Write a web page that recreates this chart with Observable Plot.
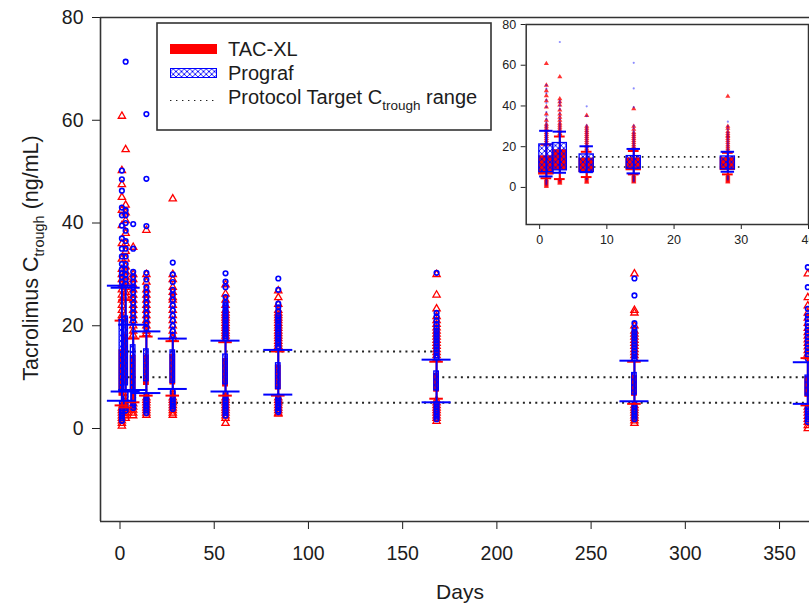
<!DOCTYPE html>
<html>
<head>
<meta charset="utf-8">
<script src="https://cdn.jsdelivr.net/npm/d3@7"></script>
<script src="https://cdn.jsdelivr.net/npm/@observablehq/plot@0.6"></script>
<style>
  body { margin: 0; background: #fff; }
  #wrap { position: relative; width: 809px; height: 606px; overflow: hidden;
          font-family: "Liberation Sans", Arial, sans-serif; }
  #wrap svg { max-width: none; }
  #inset { position: absolute; left: 495px; top: 19px; }
</style>
</head>
<body>
<svg width="0" height="0" style="position:absolute">
  <defs>
    <pattern id="hatch" patternUnits="userSpaceOnUse" width="5.5" height="5.5">
      <path d="M0,0L5.5,5.5M5.5,0L0,5.5M-1,4.5L1,6.5M4.5,-1L6.5,1M4.5,6.5L6.5,4.5M-1,1L1,-1" stroke="#0000ff" stroke-width="0.9"/>
    </pattern>
  </defs>
</svg>
<div id="wrap"><div id="main"></div><div id="inset"></div></div>
<script>
// Visit days
const days = [1, 3, 7, 14, 28, 56, 84, 168, 273, 365];

// TAC-XL summary per visit: whisker ends and box edges (ng/mL)
const tacLo = [4.5, 4.1, 5.1, 6.4, 6.4, 6.4, 6.4, 5.8, 4.8, 4.5];
const tacQ1 = [6.4, 8.7, 7.6, 8.5, 8.6, 8.2, 7.6, 7.2, 6.4, 6.2];
const tacQ3 = [15.2, 18.2, 14.1, 14.2, 14.3, 13.5, 12.2, 10.6, 10.2, 10.0];
const tacHi = [21.0, 25.0, 17.5, 17.9, 17.0, 16.8, 15.0, 13.0, 13.0, 13.7];

// Prograf summary per visit
const progLo = [5.4, 7.2, 7.5, 6.9, 7.7, 7.2, 6.6, 5.1, 5.3, 4.8];
const progQ1 = [7.5, 8.4, 7.5, 9.2, 8.9, 8.6, 7.7, 7.4, 6.6, 6.4];
const progQ3 = [21.1, 21.8, 16.2, 15.4, 15.2, 14.4, 12.7, 11.1, 10.8, 10.3];
const progHi = [27.8, 27.4, 20.2, 18.9, 17.5, 17.1, 15.3, 13.4, 13.2, 12.9];

// Individual troughs outside the whiskers, one list per visit
const tacOutliers = [
  [60.8, 50.2, 47.5, 45, 42.5, 39.5, 36, 33, 31, 30, 29, 28, 27, 26, 25, 24, 23, 22, 21.5, 4, 3.5, 3, 2.5, 2, 1.5, 1, 0.5],
  [54.3, 43.5, 42, 40.5, 38, 36, 34.5, 33, 31.5, 30.5, 29.5, 28.5, 27.5, 26.5, 25.8, 4, 3.5, 3, 2.5, 2],
  [35.3, 30, 29, 28, 27, 26, 25, 24, 23, 22, 21, 20, 19, 18.2, 4.8, 4.2, 3.6, 3, 2.5],
  [38.6, 30, 28.5, 27, 26, 25, 24, 23, 22, 21, 20, 19, 18.5, 6, 5.5, 5, 4.5, 4, 3.5, 3, 2.6],
  [44.7, 30, 29, 27.5, 26.5, 25.5, 25, 24, 23, 22, 21, 20, 19, 18, 17.5, 6, 5.5, 5, 4.5, 4, 3.5, 3, 2.6],
  [28, 26.2, 25, 24, 23, 22.5, 22, 21.5, 21, 20.5, 20, 19.5, 19, 18.5, 18, 17.5, 17.2, 6, 5.5, 5, 4.5, 4, 3.5, 3, 2.5, 2, 1],
  [26.8, 25.5, 24.2, 23, 22.5, 22, 21.5, 21, 20.5, 20, 19.5, 19, 18.5, 18, 17.5, 17, 16.5, 16, 15.5, 6, 5.5, 5, 4.5, 4, 3.5, 3, 2.8],
  [30, 26, 23.3, 21.8, 21, 20.3, 19.6, 19, 18.4, 17.8, 17.2, 16.6, 16, 15.4, 14.8, 14.2, 13.6, 5.5, 5, 4.5, 4, 3.5, 3, 2.5, 2, 1.4],
  [30.1, 23, 22.5, 20, 19, 18.4, 17.8, 17.2, 16.6, 16, 15.4, 14.8, 14.2, 13.6, 4.5, 4, 3.5, 3, 2.5, 2, 1.5, 1],
  [30.1, 25.5, 23.9, 22.5, 21.5, 20.5, 19.5, 18.7, 18, 17.3, 16.6, 15.9, 15.2, 14.5, 14, 4.2, 3.6, 3, 2.4, 1.8, 1.2, 0.6, 0]
];
const progOutliers = [
  [50.2, 48.5, 46.3, 43, 41.5, 39.5, 37, 35, 33.5, 32, 31, 30.2, 29.5, 28.5, 5, 4.5, 4, 3.5, 3, 2.5, 2, 1.5],
  [71.4, 42.5, 41.5, 40, 38.5, 36.5, 35, 33.5, 32, 31, 30, 29, 28.2, 6.8, 6.2, 5.5, 5, 4.5, 4, 3.5],
  [39.8, 35, 30.5, 29.5, 28.5, 27.5, 26.5, 25.5, 24.5, 23.5, 22.5, 21.5, 20.8, 7, 6.5, 6, 5.5, 5, 4.5, 4],
  [61.2, 48.6, 39.4, 30.3, 29, 27.5, 26.5, 25.5, 24.5, 23.5, 22.5, 21.5, 20.5, 19.5, 6.5, 6, 5.5, 5, 4.5, 4, 3.5, 3],
  [32.3, 30, 28.5, 27, 26, 25, 24, 23, 22, 21, 20, 19, 18.2, 7.2, 6.8, 6.3, 5.8, 5.3, 4.8, 4.3, 3.8],
  [30.2, 28.6, 27.5, 25.6, 24.5, 24, 23.5, 23, 22.5, 22, 21.5, 21, 20.5, 20, 19.5, 19, 18.5, 18, 17.6, 6.8, 6.4, 6, 5.5, 5, 4.5, 4, 3.5, 3, 2.5],
  [29.2, 27, 24.3, 23.6, 22.8, 22, 21.5, 21, 20.5, 20, 19.5, 19, 18.5, 18, 17.5, 17, 16.5, 16, 15.8, 6.2, 5.8, 5.4, 5, 4.5, 4, 3.5, 3.2],
  [30.3, 22.5, 21.8, 21, 20.3, 19.6, 19, 18.4, 17.8, 17.2, 16.6, 16, 15.4, 14.8, 14.2, 13.8, 4.8, 4.3, 3.8, 3.3, 2.8, 2.3, 1.8],
  [29.2, 25.9, 20.5, 19.4, 18.8, 18.2, 17.6, 17, 16.4, 15.8, 15.2, 14.6, 14, 13.5, 4.8, 4.3, 3.8, 3.3, 2.8, 2.3, 1.8],
  [31.4, 27.5, 23.3, 22, 21.3, 20.6, 19.9, 19.2, 18.5, 17.8, 17.1, 16.4, 15.7, 15, 14.3, 13.6, 4.3, 3.8, 3.3, 2.8, 2.3, 1.8, 1.3]
];

// Protocol target trough ranges by study period
const targetStart = [1, 30, 168];
const targetEnd = [30, 168, 365];
const targetLow = [10, 5, 5];
const targetHigh = [15, 15, 10];

// Axis ticks
const xTicks = [0, 50, 100, 150, 200, 250, 300, 350];
const yTicks = [0, 20, 40, 60, 80];
const insetXTicks = [0, 10, 20, 30, 40];

const RED = "#ff0000", BLUE = "#0000ff", INK = "#1c1c1c", AXIS = "#333";
const FONT = '"Liberation Sans", Arial, sans-serif';

// Table building
const boxRows = (lo, q1, q3, hi) =>
  days.map((day, i) => ({day, lo: lo[i], q1: q1[i], q3: q3[i], hi: hi[i]}));
const capRows = rows => rows.flatMap(r => [{day: r.day, y: r.lo}, {day: r.day, y: r.hi}]);
const pointRows = outs => days.flatMap((day, i) => outs[i].map(value => ({day, value})));
const targetRows = targetStart.flatMap((s, i) => [
  {start: s, end: targetEnd[i], level: targetLow[i]},
  {start: s, end: targetEnd[i], level: targetHigh[i]}
]);

const tacBoxes = boxRows(tacLo, tacQ1, tacQ3, tacHi);
const progBoxes = boxRows(progLo, progQ1, progQ3, progHi);
const tacPoints = pointRows(tacOutliers);
const progPoints = pointRows(progOutliers);

// Whisker + box + caps for one treatment group
function groupMarks(boxes, color, fill, boxHalf, capHalf, lineW, keep = d => true) {
  const b = boxes.filter(r => keep(r.day));
  const caps = capRows(b);
  return [
    Plot.ruleX(b, {x: "day", y1: "lo", y2: "hi", stroke: color, strokeWidth: lineW}),
    Plot.rect(b, {x1: d => d.day - boxHalf, x2: d => d.day + boxHalf, y1: "q1", y2: "q3",
                  fill, stroke: color, strokeWidth: 1.3}),
    Plot.ruleY(caps, {y: "y", x1: d => d.day - capHalf, x2: d => d.day + capHalf,
                      stroke: color, strokeWidth: lineW})
  ];
}

// Main panel: whole first year
const main = Plot.plot({
  width: 809, height: 606,
  marginLeft: 100, marginRight: 0, marginTop: 17, marginBottom: 85,
  style: {background: "white", color: INK, fontFamily: FONT, fontSize: "19.5px"},
  x: {domain: [-10.35, 365.9], ticks: xTicks, tickSize: 8, tickPadding: 17, label: null},
  y: {domain: [-18.1, 80], ticks: yTicks, tickSize: 8, tickPadding: 9, label: null},
  marks: [
    Plot.ruleY(targetRows, {y: "level", x1: "start", x2: "end", stroke: "#222",
                            strokeWidth: 2, strokeDasharray: "2,4.2"}),
    Plot.dot(tacPoints, {x: "day", y: "value", symbol: "triangle", r: 2.7,
                         stroke: RED, fill: "none", strokeWidth: 1.3}),
    Plot.dot(progPoints, {x: "day", y: "value", r: 2.3, stroke: BLUE, fill: "none", strokeWidth: 1.6}),
    ...groupMarks(tacBoxes, RED, RED, 1.2, 3.6, 2),
    ...groupMarks(progBoxes, BLUE, "url(#hatch)", 1.2, 7.7, 2),
    Plot.ruleX([-10.35], {stroke: AXIS, strokeWidth: 1.6}),
    Plot.ruleY([80, -18.1], {stroke: AXIS, strokeWidth: 1.6})
  ]
});
document.getElementById("main").appendChild(main);

const svg = d3.select(main);

// Axis titles with subscript
const yl = svg.append("text")
  .attr("transform", "translate(38,258) rotate(-90)")
  .attr("text-anchor", "middle").attr("fill", INK)
  .style("font-family", FONT).style("font-size", "21.5px");
yl.append("tspan").text("Tacrolimus C");
yl.append("tspan").attr("dy", 6).style("font-size", "14.5px").text("trough");
yl.append("tspan").attr("dy", -6).text(" (ng/mL)");

svg.append("text").attr("x", 460).attr("y", 599).attr("text-anchor", "middle")
  .attr("fill", INK).style("font-family", FONT).style("font-size", "21px").text("Days");

// Legend
const lg = svg.append("g").attr("text-anchor", "start")
  .style("font-family", FONT).style("font-size", "20px");
lg.append("rect").attr("x", 157).attr("y", 23).attr("width", 334).attr("height", 107)
  .attr("fill", "white").attr("stroke", AXIS).attr("stroke-width", 1.6);
lg.append("rect").attr("x", 170).attr("y", 44).attr("width", 47).attr("height", 10).attr("fill", RED);
lg.append("rect").attr("x", 170.5).attr("y", 68.5).attr("width", 46).attr("height", 9)
  .attr("fill", "url(#hatch)").attr("stroke", BLUE).attr("stroke-width", 1);
lg.append("line").attr("x1", 170).attr("x2", 216).attr("y1", 100.5).attr("y2", 100.5)
  .attr("stroke", "#222").attr("stroke-width", 1.2).attr("stroke-dasharray", "1.4,4.6");
lg.append("text").attr("x", 228).attr("y", 56).attr("fill", INK).text("TAC-XL");
lg.append("text").attr("x", 228).attr("y", 80).attr("fill", INK).text("Prograf");
const pt = lg.append("text").attr("x", 228).attr("y", 104).attr("fill", INK);
pt.append("tspan").text("Protocol Target C");
pt.append("tspan").attr("dy", 6).style("font-size", "13.5px").text("trough");
pt.append("tspan").attr("dy", -6).text(" range");

// Inset: first month in detail
const early = d => d <= 30;
const inset = Plot.plot({
  width: 314, height: 232,
  marginLeft: 30.7, marginRight: 1, marginTop: 5, marginBottom: 27,
  style: {background: "white", color: "#222", fontFamily: FONT, fontSize: "12.5px"},
  x: {domain: [-2, 40], ticks: insetXTicks, tickSize: 5, tickPadding: 6, label: null},
  y: {domain: [-18.2, 80], ticks: yTicks, tickSize: 5, tickPadding: 5, label: null},
  marks: [
    Plot.ruleY(targetRows.filter(d => d.end <= 30), {y: "level", x1: "start", x2: "end",
               stroke: "#222", strokeWidth: 1.6, strokeDasharray: "1.6,4.4"}),
    Plot.dot(tacPoints.filter(d => early(d.day)), {x: "day", y: "value", symbol: "triangle",
             r: 1.9, fill: RED, fillOpacity: 0.8}),
    Plot.dot(progPoints.filter(d => early(d.day)), {x: "day", y: "value", r: 1.1,
             fill: BLUE, fillOpacity: 0.45}),
    ...groupMarks(tacBoxes, RED, RED, 1.05, 0.8, 2, early),
    ...groupMarks(progBoxes, BLUE, "url(#hatch)", 1.05, 1.0, 2, early),
    Plot.frame({stroke: AXIS, strokeWidth: 1.5})
  ]
});
document.getElementById("inset").appendChild(inset);
</script>
</body>
</html>
